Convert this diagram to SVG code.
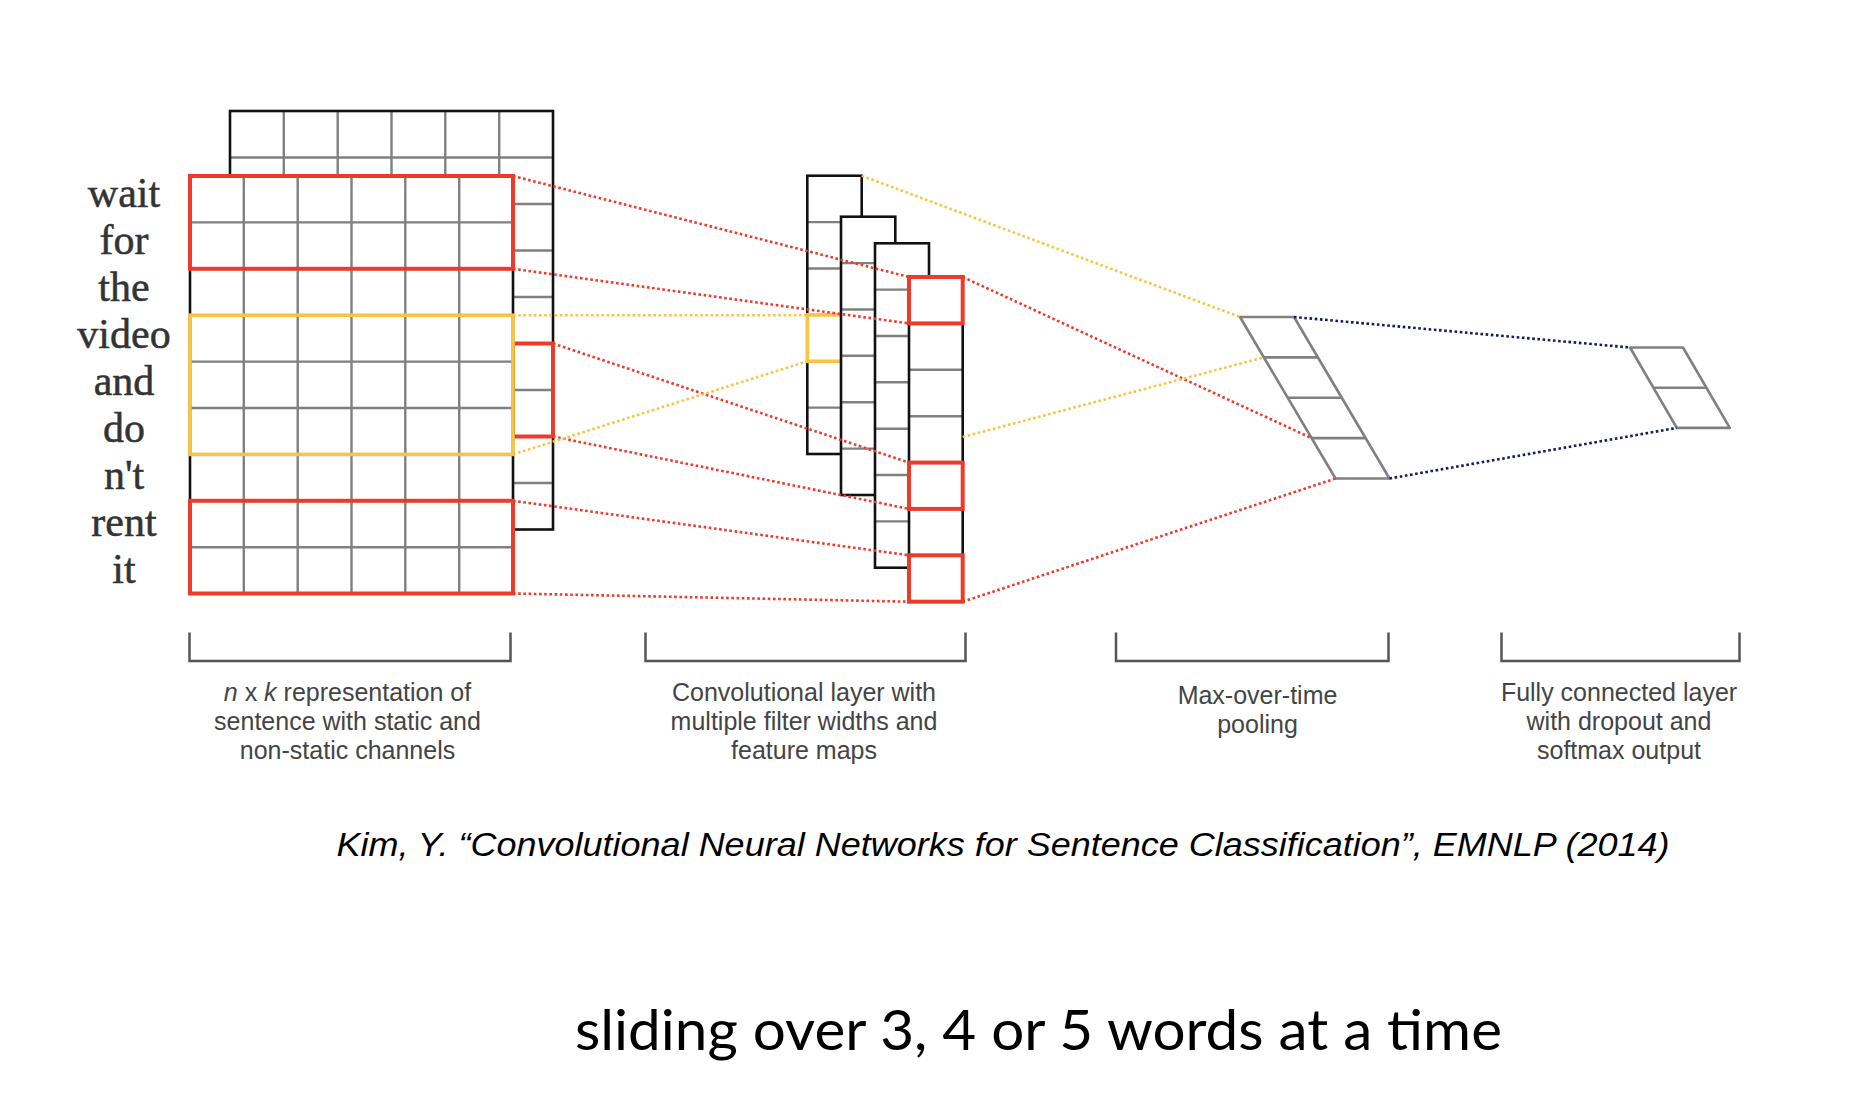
<svg xmlns="http://www.w3.org/2000/svg" width="1860" height="1114" viewBox="0 0 1860 1114">
<style>
.bg{fill:#fff;stroke:none}
.frame{fill:none;stroke:#111;stroke-width:2.6}
.grid{stroke:#808080;stroke-width:2.4;fill:none}
.hr{fill:none;stroke:#ee3a2a;stroke-width:4}
.hy{fill:none;stroke:#f8c441;stroke-width:3.6}
.dr{fill:none;stroke:#ee3a2a;stroke-width:2.6;stroke-dasharray:2.6 2.6}
.dy{fill:none;stroke:#f8c441;stroke-width:2.6;stroke-dasharray:2.6 2.6}
.dn{fill:none;stroke:#0d1f5c;stroke-width:2.6;stroke-dasharray:2.6 2.6}
.pool{fill:none;stroke:#808080;stroke-width:2.6;stroke-linejoin:round}
.brk{fill:none;stroke:#555;stroke-width:2.5}
.word{font-family:"Liberation Serif",serif;font-size:42px;fill:#333;text-anchor:middle;stroke:#333;stroke-width:0.5}
.lbl{font-family:"Liberation Sans",Arial,sans-serif;font-size:25px;fill:#444;text-anchor:middle}
</style>

<!-- input words -->
<g id="words">
<text class="word" x="124" y="207">wait</text>
<text class="word" x="124" y="254">for</text>
<text class="word" x="124" y="301">the</text>
<text class="word" x="124" y="348">video</text>
<text class="word" x="124" y="395">and</text>
<text class="word" x="124" y="442">do</text>
<text class="word" x="124" y="489">n't</text>
<text class="word" x="124" y="536">rent</text>
<text class="word" x="124" y="583">it</text>
</g>

<!-- back channel -->
<g id="channel-static">
<rect class="bg" x="230" y="111" width="323" height="418.5"/>
<path class="grid" d="M283.8 111V529.5M337.7 111V529.5M391.5 111V529.5M445.3 111V529.5M499.2 111V529.5M230 157.5H553M230 204H553M230 250.5H553M230 297H553M230 343.5H553M230 390H553M230 436.5H553M230 483H553"/>
<rect class="frame" x="230" y="111" width="323" height="418.5"/>
<rect class="hr" x="513" y="343.5" width="40" height="93"/>
</g>

<!-- front channel -->
<g id="channel-nonstatic">
<rect class="bg" x="190" y="176" width="323" height="417.5"/>
<path class="grid" d="M243.8 176V593.5M297.7 176V593.5M351.5 176V593.5M405.3 176V593.5M459.2 176V593.5M190 222.4H513M190 268.8H513M190 315.2H513M190 361.6H513M190 408H513M190 454.4H513M190 500.8H513M190 547.2H513"/>
<rect class="frame" x="190" y="176" width="323" height="417.5"/>
<rect class="hr" x="190" y="176" width="323" height="92.8"/>
<rect class="hr" x="190" y="500.8" width="323" height="92.7"/>
<rect class="hy" x="190" y="315.2" width="323" height="139.2"/>
</g>

<!-- convolutional feature maps -->
<g id="conv-map-1">
<rect class="bg" x="807.3" y="175.7" width="54.4" height="278.3"/>
<path class="grid" d="M807.3 222.1H861.7M807.3 268.5H861.7M807.3 361.2H861.7M807.3 407.6H861.7"/>
<rect class="frame" x="807.3" y="175.7" width="54.4" height="278.3"/>
<rect class="hy" x="807.3" y="314.9" width="54.4" height="46.4"/>
</g>
<g id="conv-map-2">
<rect class="bg" x="841" y="216.7" width="54.3" height="278.3"/>
<path class="grid" d="M841 263.1H895.3M841 309.5H895.3M841 355.8H895.3M841 402.2H895.3M841 448.6H895.3"/>
<rect class="frame" x="841" y="216.7" width="54.3" height="278.3"/>
</g>
<g id="conv-map-3">
<rect class="bg" x="875" y="243.3" width="54" height="324.4"/>
<path class="grid" d="M875 289.6H929M875 336H929M875 382.3H929M875 428.7H929M875 475H929M875 521.4H929"/>
<rect class="frame" x="875" y="243.3" width="54" height="324.4"/>
</g>
<g id="conv-map-4">
<rect class="bg" x="909" y="277" width="53.7" height="324.7"/>
<path class="grid" d="M909 323.4H962.7M909 369.8H962.7M909 416.2H962.7M909 462.6H962.7M909 508.9H962.7M909 555.3H962.7"/>
<rect class="frame" x="909" y="277" width="53.7" height="324.7"/>
<rect class="hr" x="909" y="277" width="53.7" height="46.4"/>
<rect class="hr" x="909" y="462.6" width="53.7" height="46.3"/>
<rect class="hr" x="909" y="555.3" width="53.7" height="46.4"/>
</g>

<!-- max-over-time pooling -->
<g id="pooling">
<path class="pool" d="M1240 317H1294L1389.5 478.5H1335.5Z"/>
<path class="pool" d="M1263.9 357.4H1317.9M1287.75 397.75H1341.75M1311.6 438.1H1365.6"/>
</g>

<!-- fully connected layer -->
<g id="fully-connected">
<path class="pool" d="M1630 347.5H1683L1729.8 427.9H1676.8Z"/>
<path class="pool" d="M1653.4 387.7H1706.4"/>
</g>

<!-- connectors -->
<g id="connectors">
<line class="dr" x1="513" y1="176" x2="909" y2="277"/>
<line class="dr" x1="513" y1="268.8" x2="909" y2="323.4"/>
<line class="dr" x1="553" y1="343.5" x2="909" y2="462.6"/>
<line class="dr" x1="553" y1="436.5" x2="909" y2="508.9"/>
<line class="dr" x1="513" y1="500.8" x2="909" y2="555.3"/>
<line class="dr" x1="513" y1="593.5" x2="909" y2="601.7"/>
<line class="dy" x1="513" y1="315.2" x2="807.3" y2="315.2"/>
<line class="dy" x1="513" y1="454.4" x2="807.3" y2="361.3"/>
<line class="dy" x1="861.7" y1="175.7" x2="1240" y2="317"/>
<line class="dr" x1="962.7" y1="277" x2="1311.6" y2="438.1"/>
<line class="dy" x1="962.7" y1="437" x2="1263.9" y2="357.4"/>
<line class="dr" x1="962.7" y1="601.7" x2="1335.5" y2="478.5"/>
<line class="dn" x1="1294" y1="317" x2="1630" y2="347.5"/>
<line class="dn" x1="1389.5" y1="478.5" x2="1676.8" y2="427.9"/>
</g>

<!-- brackets and labels -->
<g id="label-input">
<path class="brk" d="M189.5 632.5V661H510.5V632.5"/>
<text class="lbl" x="347.5" y="701"><tspan font-style="italic">n</tspan> x <tspan font-style="italic">k</tspan> representation of</text>
<text class="lbl" x="347.5" y="730">sentence with static and</text>
<text class="lbl" x="347.5" y="759">non-static channels</text>
</g>
<g id="label-conv">
<path class="brk" d="M645.5 632.5V661H965.5V632.5"/>
<text class="lbl" x="804" y="701">Convolutional layer with</text>
<text class="lbl" x="804" y="730">multiple filter widths and</text>
<text class="lbl" x="804" y="759">feature maps</text>
</g>
<g id="label-pool">
<path class="brk" d="M1116 632.5V661H1388.5V632.5"/>
<text class="lbl" x="1257.5" y="703.5">Max-over-time</text>
<text class="lbl" x="1257.5" y="732.5">pooling</text>
</g>
<g id="label-fc">
<path class="brk" d="M1501.5 632.5V661H1739.5V632.5"/>
<text class="lbl" x="1619" y="701">Fully connected layer</text>
<text class="lbl" x="1619" y="730">with dropout and</text>
<text class="lbl" x="1619" y="759">softmax output</text>
</g>

<g id="citation">
<text x="336.5" y="856" font-family="'Liberation Sans',Arial,sans-serif" font-size="34" font-style="italic" fill="#000" textLength="1333" lengthAdjust="spacingAndGlyphs">Kim, Y. “Convolutional Neural Networks for Sentence Classification”, EMNLP (2014)</text>
</g>
<g id="caption">
<text x="575" y="1050" font-family="Lato,'Liberation Sans',sans-serif" font-size="56" fill="#000" textLength="927" lengthAdjust="spacingAndGlyphs">sliding over 3, 4 or 5 words at a time</text>
</g>
</svg>
